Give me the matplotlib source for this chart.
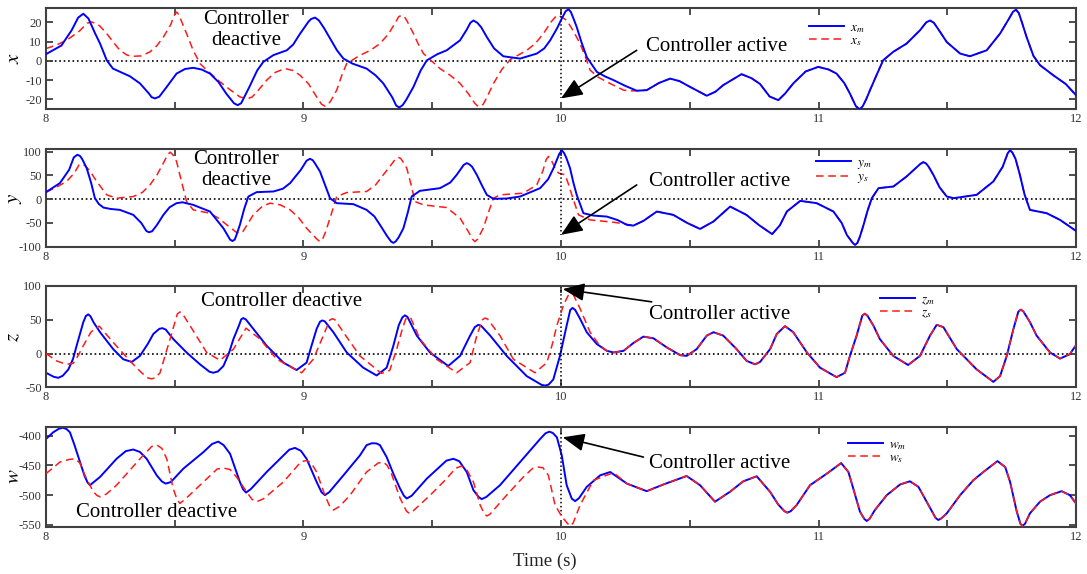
import numpy as np
import matplotlib
matplotlib.use('Agg')
import matplotlib.pyplot as plt

plt.rcParams['font.family'] = 'Liberation Serif'
plt.rcParams['mathtext.fontset'] = 'stix'
plt.rcParams['axes.unicode_minus'] = False

# ---- data: (time, value) ----
xm_pts = [(8.0, 3.5), (8.06, 8), (8.10, 16), (8.125, 22.5), (8.145, 24.5), (8.165, 22), (8.19, 14.5), (8.21, 9),
          (8.236, 0.3), (8.26, -4), (8.326, -8), (8.365, -11.7), (8.40, -17), (8.41, -18.8), (8.423, -19.5),
          (8.44, -18.6), (8.469, -13.5), (8.507, -6.6), (8.54, -4.2), (8.572, -3.6), (8.605, -4.5),
          (8.637, -6.6), (8.67, -11), (8.70, -17), (8.73, -22), (8.744, -23), (8.758, -22), (8.79, -13.5),
          (8.82, -5), (8.844, -0.5), (8.883, 3), (8.935, 5.5), (8.96, 8.5), (8.986, 14), (9.02, 20.5),
          (9.03, 21.8), (9.045, 22.5), (9.06, 21), (9.08, 17), (9.10, 12.4), (9.13, 5.5), (9.155, 1.2),
          (9.19, -1.4), (9.245, -4), (9.28, -7.5), (9.31, -11.7), (9.345, -19), (9.36, -23.2), (9.372, -24.2),
          (9.385, -23), (9.40, -20), (9.427, -13.5), (9.455, -5), (9.479, 0.3), (9.52, 3.5), (9.556, 5.5),
          (9.608, 10.7), (9.635, 16.5), (9.648, 19.8), (9.66, 21), (9.675, 19.8), (9.69, 17.5), (9.712, 12.4),
          (9.74, 6.5), (9.776, 2.4), (9.841, 1.2), (9.906, 3.8), (9.935, 6.5), (9.958, 10.7), (9.985, 17),
          (10.003, 22), (10.018, 25.8), (10.029, 26.8), (10.038, 25.5), (10.05, 21.5), (10.061, 17.6),
          (10.08, 9.5), (10.10, 2), (10.139, -5.7), (10.17, -8), (10.204, -10), (10.25, -13), (10.294, -15.5),
          (10.333, -15.2), (10.38, -11.5), (10.424, -9.2), (10.46, -10.5), (10.501, -13.5), (10.566, -18.1),
          (10.60, -16), (10.63, -12.6), (10.701, -6.9), (10.74, -9), (10.773, -12), (10.81, -18.5),
          (10.844, -20.4), (10.87, -17), (10.902, -11.7), (10.95, -5.5), (10.999, -3.1), (11.04, -4.5),
          (11.07, -6.6), (11.10, -11.5), (11.122, -17), (11.145, -23.5), (11.16, -25.2), (11.172, -23.5),
          (11.185, -20), (11.20, -15.2), (11.225, -7.5), (11.251, 0.3), (11.29, 4.7), (11.342, 9),
          (11.394, 15.9), (11.418, 20), (11.433, 21), (11.448, 19.8), (11.465, 16.5), (11.498, 9.8),
          (11.55, 3.8), (11.588, 2.4), (11.653, 5.5), (11.705, 14.2), (11.74, 22), (11.755, 25.5),
          (11.767, 26.6), (11.778, 24.8), (11.79, 20), (11.808, 12.4), (11.835, 2.5), (11.86, -2.2),
          (11.911, -7.4), (11.96, -12), (12.0, -17.8)]
xs_pts = [(8.0, 6.4), (8.04, 8.2), (8.08, 10.7), (8.13, 15.5), (8.16, 19.6), (8.177, 20.2), (8.195, 19.5),
          (8.21, 18), (8.236, 14.2), (8.26, 10), (8.287, 5.5), (8.315, 3), (8.339, 2.4), (8.37, 2.6),
          (8.404, 4.7), (8.43, 7.8), (8.456, 12.4), (8.485, 19), (8.497, 23.5), (8.507, 25.4), (8.516, 24),
          (8.525, 21), (8.546, 14.2), (8.57, 6), (8.598, -1.4), (8.63, -5.5), (8.676, -10.9), (8.715, -15),
          (8.753, -18.7), (8.77, -19.3), (8.786, -19.5), (8.80, -18.8), (8.82, -16), (8.857, -10), (8.89, -6),
          (8.928, -4), (8.96, -5), (8.986, -7.4), (9.02, -12), (9.05, -18.5), (9.07, -22.5), (9.083, -23.5),
          (9.095, -22.7), (9.105, -21), (9.129, -15.2), (9.15, -7), (9.168, -1.4), (9.219, 2.9), (9.26, 5.5),
          (9.297, 9), (9.33, 14), (9.355, 19.5), (9.37, 23), (9.381, 23.7), (9.393, 22.8), (9.405, 20),
          (9.427, 14.2), (9.445, 9), (9.466, 3.8), (9.53, -4), (9.57, -7.5), (9.608, -11.7), (9.64, -17),
          (9.665, -22), (9.675, -23.3), (9.686, -23.8), (9.698, -22.5), (9.71, -19.5), (9.738, -11.7),
          (9.77, -4.5), (9.803, 0.7), (9.867, 5.5), (9.90, 9), (9.932, 14.2), (9.96, 20), (9.984, 23.7),
          (10.0, 23), (10.023, 21), (10.05, 15), (10.074, 9), (10.095, 2), (10.113, -4.8), (10.145, -8.5),
          (10.178, -10.9), (10.21, -13), (10.243, -15.2), (10.27, -15.6)]
xs_sync = 10.28

ym_pts = [(8.0, 14.8), (8.054, 33.8), (8.09, 62), (8.108, 88), (8.122, 93.5), (8.132, 91), (8.14, 85),
          (8.158, 65.4), (8.175, 35), (8.19, 2.1), (8.205, -10), (8.223, -17.6), (8.25, -20.5), (8.287, -22.5),
          (8.339, -33), (8.37, -50), (8.39, -67), (8.40, -69.6), (8.412, -67.5), (8.43, -55), (8.456, -33),
          (8.48, -17), (8.507, -8.4), (8.53, -6.5), (8.572, -12), (8.637, -26), (8.665, -45), (8.689, -61.2),
          (8.715, -85), (8.724, -88), (8.733, -85), (8.74, -75), (8.753, -54), (8.77, -20), (8.786, 5.6),
          (8.818, 14.8), (8.883, 16.2), (8.92, 22), (8.948, 33.8), (8.99, 62), (9.012, 81), (9.025, 85),
          (9.036, 82), (9.045, 75), (9.064, 58.4), (9.085, 28), (9.103, 2.1), (9.129, -8.4), (9.194, -10.5),
          (9.245, -22.5), (9.275, -36), (9.297, -54), (9.325, -78), (9.34, -89), (9.349, -92), (9.358, -89),
          (9.37, -80), (9.388, -61.2), (9.405, -28), (9.42, 5.6), (9.452, 17.6), (9.53, 23.2), (9.57, 35),
          (9.595, 51.3), (9.622, 72), (9.634, 76), (9.645, 73), (9.655, 68), (9.673, 51.3), (9.692, 30),
          (9.712, 9.1), (9.738, 0.7), (9.79, 1.5), (9.841, 5.6), (9.919, 23.2), (9.95, 42), (9.971, 65.4),
          (9.993, 95), (10.003, 103), (10.012, 97), (10.02, 88), (10.035, 65.4), (10.048, 35), (10.061, 9.1),
          (10.075, -12), (10.087, -29.5), (10.126, -34.5), (10.178, -36.6), (10.22, -44), (10.256, -54),
          (10.281, -55.6), (10.32, -45.7), (10.372, -26), (10.436, -33), (10.49, -50), (10.54, -62.6),
          (10.592, -47), (10.657, -15.5), (10.72, -33), (10.77, -55), (10.82, -73.5), (10.85, -55),
          (10.877, -26), (10.929, -3.5), (10.993, -8.4), (11.058, -26), (11.09, -50), (11.11, -75.2),
          (11.133, -92), (11.142, -96.3), (11.151, -92), (11.16, -80), (11.175, -54), (11.19, -25),
          (11.207, 2.1), (11.233, 23.2), (11.291, 26.7), (11.342, 47.8), (11.395, 74), (11.407, 78),
          (11.418, 75), (11.428, 68), (11.446, 51.3), (11.47, 25), (11.498, 5.6), (11.524, 2.1),
          (11.614, 9.1), (11.679, 37.3), (11.715, 68), (11.735, 97), (11.744, 103), (11.753, 98),
          (11.765, 85), (11.782, 51.3), (11.80, 10), (11.821, -22.5), (11.886, -29.5), (11.938, -43.6),
          (12.0, -66.8)]
ys_pts = [(8.0, 14.8), (8.04, 25), (8.08, 37.3), (8.11, 55), (8.128, 72), (8.139, 73.8), (8.152, 70.5),
          (8.17, 60), (8.197, 37.3), (8.236, 9.1), (8.274, 2.1), (8.339, 5.6), (8.374, 14), (8.404, 30.2),
          (8.43, 50), (8.456, 76), (8.472, 93), (8.482, 99), (8.492, 94), (8.507, 79.5), (8.525, 40),
          (8.546, -5), (8.572, -22.5), (8.637, -29.5), (8.67, -40), (8.702, -54), (8.74, -70), (8.753, -71.7),
          (8.765, -68), (8.78, -55), (8.805, -33), (8.84, -15), (8.87, -8.4), (8.91, -12), (8.948, -22.5),
          (8.98, -38), (9.012, -61.2), (9.052, -84), (9.064, -89.3), (9.074, -84), (9.085, -70), (9.103, -40),
          (9.129, 5.6), (9.168, 14), (9.245, 16.2), (9.28, 30), (9.31, 51.3), (9.34, 72), (9.356, 84),
          (9.368, 88), (9.377, 86), (9.385, 80), (9.401, 65.4), (9.418, 30), (9.433, -5), (9.466, -12),
          (9.556, -17.6), (9.608, -40), (9.64, -68), (9.656, -84), (9.666, -89.3), (9.676, -84), (9.698, -61.2),
          (9.72, -25), (9.738, 2.1), (9.763, 9.1), (9.854, 12.7), (9.906, 30.2), (9.93, 60), (9.942, 83),
          (9.951, 90), (9.96, 85), (9.977, 65.4), (9.99, 55), (10.016, 51.3), (10.03, 30), (10.042, 9.1),
          (10.068, -33), (10.113, -43.6), (10.204, -48.5), (10.268, -54)]
ys_sync = 10.275

zm_pts = [(8.0, -28.5), (8.03, -34.5), (8.048, -36), (8.065, -33), (8.087, -23.5), (8.105, -8), (8.119, 11.5),
          (8.145, 46.5), (8.155, 55.5), (8.164, 58), (8.173, 55), (8.185, 46), (8.21, 31.5), (8.261, 6.5),
          (8.30, -8.5), (8.333, -12.5), (8.365, -3.5), (8.395, 14), (8.417, 29), (8.44, 36.5), (8.452, 37.5),
          (8.465, 35.5), (8.494, 21.5), (8.546, 1.5), (8.598, -16), (8.635, -27), (8.65, -28.5),
          (8.668, -26.5), (8.689, -18.5), (8.71, 0), (8.728, 21.5), (8.75, 42), (8.758, 50.5), (8.766, 52.5),
          (8.776, 50.5), (8.805, 36.5), (8.857, 11.5), (8.922, -13.5), (8.973, -24.5), (9.012, -13.5),
          (9.03, 10), (9.051, 36.5), (9.064, 47), (9.073, 49), (9.083, 47.5), (9.116, 31.5), (9.168, 1.5),
          (9.232, -21), (9.284, -32.5), (9.323, -21), (9.349, 11.5), (9.37, 42), (9.384, 53.5), (9.394, 56.5),
          (9.404, 54), (9.44, 26.5), (9.491, 1.5), (9.562, -18.5), (9.608, -3.5), (9.645, 25), (9.665, 39),
          (9.679, 42.5), (9.69, 41), (9.725, 26.5), (9.789, -3.5), (9.867, -33.5), (9.925, -46.5),
          (9.938, -47.5), (9.952, -46), (9.97, -38.5), (9.996, -3.5), (10.022, 41.5), (10.036, 64.5),
          (10.045, 67.5), (10.055, 64.5), (10.074, 51.5), (10.1, 31.5), (10.139, 14), (10.178, 4),
          (10.204, 1.5), (10.243, 4), (10.281, 15.5), (10.32, 25), (10.359, 22.5), (10.411, 9),
          (10.463, -2.5), (10.488, -3.5), (10.527, 6.5), (10.566, 26.5), (10.592, 31.5), (10.63, 26.5),
          (10.682, 6.5), (10.721, -11), (10.754, -16), (10.773, -12.5), (10.812, 6.5), (10.838, 29),
          (10.87, 40.5), (10.902, 31.5), (10.955, 1.5), (11.006, -21), (11.07, -35), (11.103, -28.5),
          (11.122, -3.5), (11.148, 26.5), (11.17, 56), (11.18, 59), (11.19, 56), (11.213, 41.5),
          (11.238, 21.5), (11.29, -3.5), (11.348, -17), (11.394, -3.5), (11.433, 26.5), (11.459, 42.5),
          (11.485, 39), (11.537, 6.5), (11.614, -23.5), (11.679, -42), (11.705, -33.5), (11.731, -3.5),
          (11.757, 36.5), (11.776, 62), (11.786, 65), (11.796, 62), (11.821, 46.5), (11.847, 26.5),
          (11.899, 1.5), (11.938, -7.5), (11.976, -1), (12.0, 12.5)]
zs_pts = [(8.0, 0), (8.041, -11), (8.08, -16), (8.106, -14.5), (8.125, -3), (8.145, 11.5), (8.175, 32),
          (8.207, 40.5), (8.261, 16.5), (8.326, -11), (8.37, -28), (8.395, -36), (8.41, -37.5), (8.425, -36),
          (8.443, -28.5), (8.465, 0), (8.482, 21.5), (8.51, 58.5), (8.52, 61.5), (8.53, 59), (8.559, 41.5),
          (8.624, 1.5), (8.676, -10), (8.728, 6.5), (8.777, 37.5), (8.831, 21.5), (8.896, -8.5),
          (8.993, -28.5), (9.038, -8.5), (9.077, 26.5), (9.102, 49.5), (9.112, 51.5), (9.122, 50),
          (9.155, 31.5), (9.219, -3.5), (9.303, -29.5), (9.335, -25), (9.362, 6.5), (9.385, 38), (9.397, 51),
          (9.407, 54), (9.417, 52), (9.452, 21.5), (9.517, -8.5), (9.595, -28.5), (9.647, -13.5),
          (9.673, 26.5), (9.695, 50), (9.705, 52.5), (9.715, 51), (9.763, 26.5), (9.815, -8.5),
          (9.899, -28.5), (9.945, -13.5), (9.965, 12), (9.984, 41.5), (10.01, 72), (10.028, 86),
          (10.038, 89), (10.048, 87), (10.074, 66.5), (10.113, 31.5), (10.15, 12)]
zs_sync = 10.17

wm_pts = [(8.0, -405.6), (8.028, -394.4), (8.05, -388.5), (8.065, -386.7), (8.08, -389), (8.093, -394.4),
          (8.11, -415), (8.132, -444.4), (8.15, -468), (8.162, -479), (8.171, -483.3), (8.18, -480),
          (8.21, -469.4), (8.274, -438.9), (8.31, -426), (8.339, -423.3), (8.365, -427.5), (8.391, -438.9),
          (8.43, -466.7), (8.45, -477), (8.465, -480.6), (8.485, -478), (8.533, -455.6), (8.611, -427.8),
          (8.645, -414), (8.669, -410), (8.69, -416), (8.715, -430.6), (8.753, -477.8), (8.765, -490),
          (8.777, -495.6), (8.795, -490), (8.857, -461.1), (8.922, -433.3), (8.945, -423.5), (8.967, -420.6),
          (8.99, -425.5), (9.012, -438.9), (9.051, -477.8), (9.07, -495), (9.083, -500), (9.1, -495),
          (9.155, -466.7), (9.219, -433.3), (9.245, -416), (9.265, -412.8), (9.283, -413), (9.297, -416),
          (9.323, -436.1), (9.35, -465), (9.375, -488.9), (9.39, -501), (9.401, -505.6), (9.42, -501),
          (9.479, -472.2), (9.555, -442), (9.582, -438.9), (9.605, -443), (9.634, -461.1), (9.66, -491.7),
          (9.68, -503), (9.692, -506.7), (9.71, -503), (9.763, -483.3), (9.841, -444.4), (9.919, -405.6),
          (9.94, -396), (9.955, -393.3), (9.968, -395.5), (9.984, -402.8), (10.003, -433.3), (10.022, -483.3),
          (10.042, -506), (10.055, -510), (10.07, -505), (10.1, -486.1), (10.152, -466.7), (10.191, -461.1),
          (10.256, -480.6), (10.333, -493.3), (10.398, -482), (10.488, -467.8), (10.54, -483.3), (10.598, -511),
          (10.656, -494.4), (10.708, -476.7), (10.76, -468.3), (10.812, -494.4), (10.844, -516), (10.868, -527),
          (10.879, -529.4), (10.892, -527), (10.915, -516.7), (10.967, -483.3), (11.032, -463.9),
          (11.088, -446.1), (11.116, -461), (11.135, -488.9), (11.161, -527.8), (11.178, -540), (11.187, -543.3),
          (11.198, -540), (11.219, -525), (11.265, -500), (11.317, -482), (11.355, -476.7), (11.388, -486),
          (11.42, -511), (11.455, -538.5), (11.465, -541.7), (11.477, -539), (11.498, -530.6), (11.55, -500),
          (11.601, -475), (11.64, -461.1), (11.695, -442.8), (11.725, -452.8), (11.744, -477.8), (11.77, -527.8),
          (11.784, -548), (11.792, -551.7), (11.802, -548), (11.821, -530.6), (11.86, -511), (11.899, -500),
          (11.944, -493.3), (11.976, -500), (12.0, -513.9)]
ws_pts = [(8.0, -463.9), (8.054, -444.4), (8.09, -440), (8.113, -438.9), (8.132, -446), (8.151, -466.7),
          (8.184, -494.4), (8.198, -500.5), (8.21, -502.8), (8.235, -498), (8.274, -483.3), (8.365, -438.9),
          (8.41, -418.5), (8.43, -415.6), (8.45, -421.5), (8.469, -438.9), (8.494, -488.9), (8.508, -506),
          (8.52, -513.9), (8.54, -507), (8.598, -483.3), (8.665, -456), (8.689, -454.4), (8.715, -457),
          (8.74, -469.4), (8.779, -494.4), (8.80, -507), (8.818, -511.1), (8.845, -506), (8.922, -477.8),
          (8.99, -444), (9.012, -441.7), (9.03, -446), (9.051, -461.1), (9.083, -500), (9.10, -517),
          (9.116, -525), (9.14, -519), (9.181, -500), (9.245, -461.1), (9.29, -446), (9.31, -444.4),
          (9.325, -450), (9.34, -462), (9.375, -505), (9.40, -527), (9.411, -530.6), (9.422, -528),
          (9.492, -500), (9.556, -472.2), (9.59, -455), (9.614, -451.1), (9.635, -458), (9.66, -477.8),
          (9.686, -516.7), (9.702, -531), (9.712, -535), (9.724, -532), (9.789, -500), (9.854, -469.4),
          (9.89, -455), (9.912, -452.8), (9.93, -454), (9.951, -466.7), (9.977, -516.7), (10.003, -536),
          (10.024, -547), (10.035, -551.7), (10.047, -547), (10.074, -516.7), (10.126, -475), (10.204, -462.2)]
ws_sync = 10.23

# panel settings
names = ['x', 'y', 'z', 'w']
ylims = [(-25, 27.5), (-100, 105), (-50, 100), (-553, -385)]
yticks = [[-20, -10, 0, 10, 20], [-100, -50, 0, 50, 100], [-50, 0, 50, 100], [-550, -500, -450, -400]]
# axes boxes in figure fraction
boxes = [(0.0423, 0.8101, 0.9476, 0.1760),
         (0.0423, 0.5702, 0.9476, 0.1697),
         (0.0423, 0.3253, 0.9476, 0.1765),
         (0.0423, 0.0824, 0.9476, 0.1742)]
legend_pos = [(0.741, 0.734), (0.748, 0.777), (0.810, 0.795), (0.779, 0.750)]
blue_on_top = [True, True, False, False]


def full_slave(s_pts, m_pts, sync):
    # after synchronisation the slave follows the master curve
    return s_pts + [p for p in m_pts if p[0] > sync]


series = [(xm_pts, full_slave(xs_pts, xm_pts, xs_sync)),
          (ym_pts, full_slave(ys_pts, ym_pts, ys_sync)),
          (zm_pts, full_slave(zs_pts, zm_pts, zs_sync)),
          (wm_pts, full_slave(ws_pts, wm_pts, ws_sync))]

fig = plt.figure(figsize=(10.87, 5.74), dpi=100)
axes = []
for i in range(4):
    ax = fig.add_axes(boxes[i])
    axes.append(ax)
    m, s = np.array(series[i][0]), np.array(series[i][1])
    zb, zr = (3, 2) if blue_on_top[i] else (2, 3)
    lm, = ax.plot(m[:, 0], m[:, 1], color='#0000ff', lw=1.4, zorder=zb, label='$%s_m$' % names[i])
    ls, = ax.plot(s[:, 0], s[:, 1], color='#ff1a1a', lw=1.1, ls=(0, (5, 3)), zorder=zr,
                  label='$%s_s$' % names[i])
    ax.set_xlim(8, 12)
    ax.set_ylim(*ylims[i])
    ax.set_xticks([8, 9, 10, 11, 12])
    ax.set_xticks([8.5, 9.5, 10.5, 11.5], minor=True)
    ax.set_yticks(yticks[i])
    ax.tick_params(which='both', direction='in', top=True, right=True, length=5, width=1.3,
                   color='#404040', labelsize=9, labelcolor='#333333', pad=3)
    for sp in ax.spines.values():
        sp.set_color('#404040')
        sp.set_linewidth(1.5)
    if i < 3:
        ax.axhline(0, color='k', ls=':', lw=1.2, zorder=1)
    ax.set_ylabel('$%s$' % names[i], fontsize=15, labelpad=0, va='center')
    ax.yaxis.set_label_coords(-0.031, 0.5)
    ax.legend(handles=[lm, ls], loc='center left', bbox_to_anchor=legend_pos[i], frameon=False,
              fontsize=9.5, handlelength=2.6, handletextpad=0.5, labelspacing=0.0, borderpad=0,
              borderaxespad=0)

# vertical marker at switch-on time
axes[0].plot([10, 10], [27.5, -19.5], color='k', ls=':', lw=1.1)
axes[1].plot([10, 10], [105, -75], color='k', ls=':', lw=1.1)
axes[2].plot([10, 10], [100, -50], color='k', ls=':', lw=1.1)
axes[3].plot([10, 10], [-395, -538], color='k', ls=':', lw=1.1)

# annotations
arrow = dict(arrowstyle='-|>,head_length=0.6,head_width=0.25', color='k', lw=1.2,
             mutation_scale=22, shrinkA=0, shrinkB=0)
active_text = [(10.33, 7.5), (10.34, 37), (10.34, 58), (10.34, -447)]
arrow_start = [(10.294, 5.5), (10.294, 30), (10.352, 76.5), (10.32, -436)]
arrow_tip = [(10.0, -19.5), (10.0, -75), (10.007, 95.4), (10.007, -402.8)]
for i in range(4):
    axes[i].annotate('', xy=arrow_tip[i], xytext=arrow_start[i], arrowprops=arrow)
    axes[i].text(active_text[i][0], active_text[i][1], 'Controller active', fontsize=15,
                 ha='left', va='center')

axes[0].text(8.777, 15.9, 'Controller\ndeactive', fontsize=15, ha='center', va='center', linespacing=1.15)
axes[1].text(8.738, 62, 'Controller\ndeactive', fontsize=15, ha='center', va='center', linespacing=1.15)
axes[2].text(8.915, 76.5, 'Controller deactive', fontsize=15, ha='center', va='center')
axes[3].text(8.429, -528.8, 'Controller deactive', fontsize=15, ha='center', va='center')

fig.text(545 / 1087, 1 - 561 / 574, 'Time (s)', fontsize=13.5, ha='center', va='center', color='#222222')

fig.savefig('out.png', dpi=100)
